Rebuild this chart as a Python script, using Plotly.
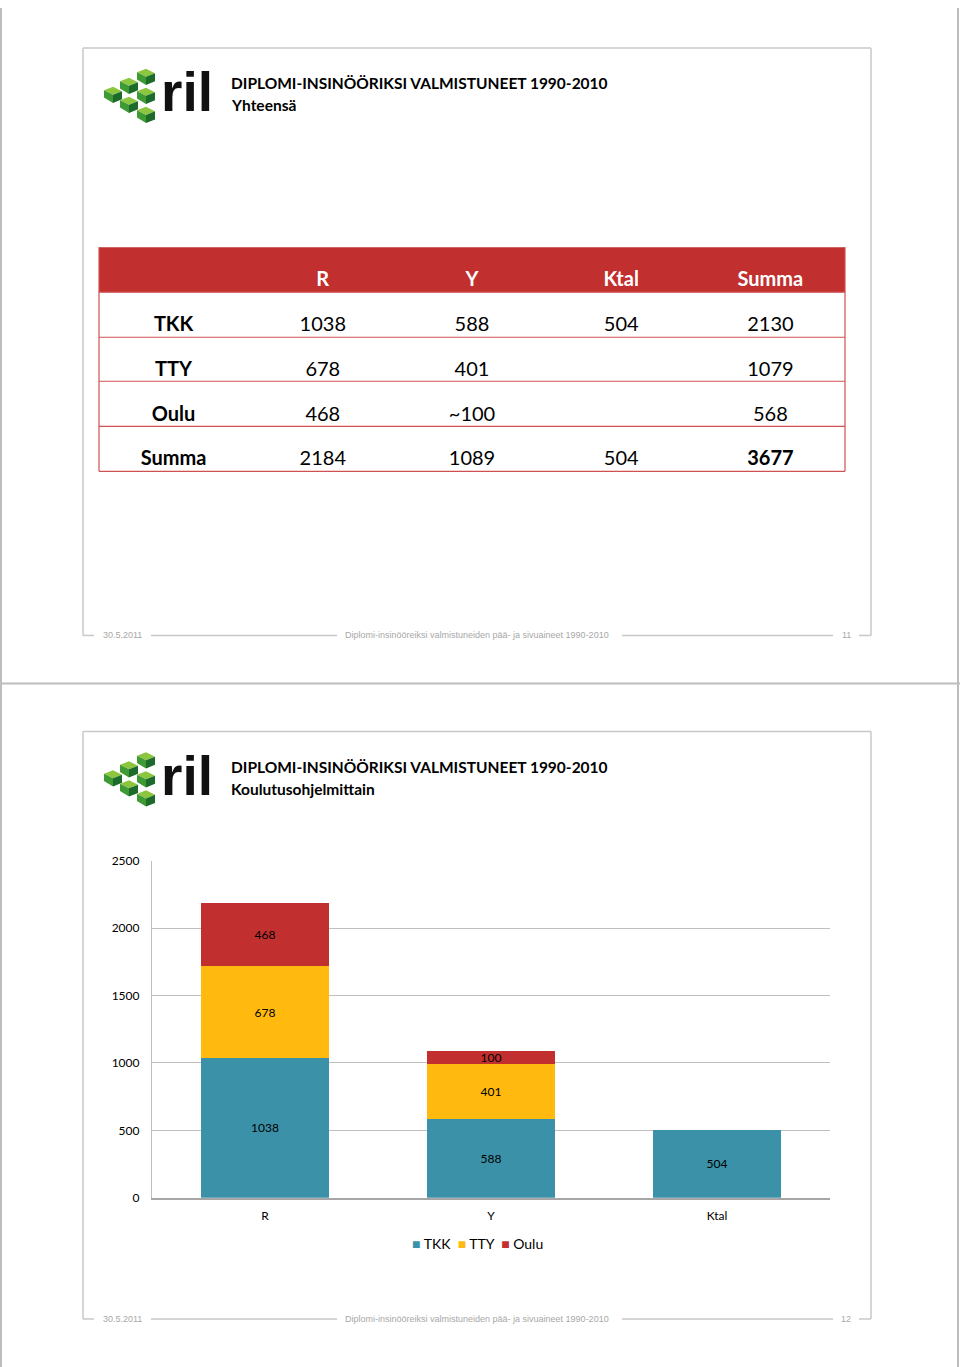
import plotly.graph_objects as go

W, H = 960, 1367
# vertical placement correction measured from the rendered page
OFF, SCL = 8.0, 0.9883


def px(x):
    return x / W


def py(y):
    return 1 - ((y - OFF) / SCL) / H


# ---------------- data ----------------
table_cols = ["", "R", "Y", "Ktal", "Summa"]
table_rows = ["TKK", "TTY", "Oulu", "Summa"]
col_R = ["1038", "678", "468", "2184"]
col_Y = ["588", "401", "~100", "1089"]
col_Ktal = ["504", "", "", "504"]
col_Summa = ["2130", "1079", "568", "3677"]

categories = ["R", "Y", "Ktal"]
tkk = [1038, 588, 504]
tty = [678, 401, None]
oulu = [468, 100, None]
series_names = ["TKK", "TTY", "Oulu"]
series_colors = ["#3A91A8", "#FFB90F", "#C12F2F"]
y_ticks = [0, 500, 1000, 1500, 2000, 2500]

title_main = "DIPLOMI-INSINÖÖRIKSI VALMISTUNEET 1990-2010"
subtitle_1 = "Yhteensä"
subtitle_2 = "Koulutusohjelmittain"
footer_date = "30.5.2011"
footer_text = "Diplomi-insinööreiksi valmistuneiden pää- ja sivuaineet 1990-2010"
page_numbers = ["11", "12"]

FONT = "Lato"
SANS = "Liberation Sans"
RED = "#C12F2F"
GRAY = "#C8C8C8"

fig = go.Figure()

# ---------------- stacked bar chart ----------------
for name, vals, col in zip(series_names, [tkk, tty, oulu], series_colors):
    fig.add_trace(go.Bar(
        x=categories, y=vals, name=name, marker=dict(color=col, line=dict(width=0)),
        texttemplate="%{y}", textposition="inside", insidetextanchor="middle",
        textfont=dict(family=FONT, size=12, color="black"), constraintext="none",
        showlegend=False, hoverinfo="skip", xaxis="x", yaxis="y",
    ))

# ---------------- table (text on hidden axes) ----------------
columns = [table_rows, col_R, col_Y, col_Ktal, col_Summa]
hx, hy, ht = [], [], []
for j, c in enumerate(table_cols):
    hx.append(j)
    hy.append(0)
    ht.append("<b>%s</b>" % c)
bx, by, bt = [], [], []
for j, col in enumerate(columns):
    for i, v in enumerate(col):
        bx.append(j)
        by.append(i + 1)
        bold = (j == 0) or (j == len(columns) - 1 and i == len(col) - 1)
        bt.append("<b>%s</b>" % v if bold else v)

fig.add_trace(go.Scatter(x=hx, y=hy, text=ht, mode="text", xaxis="x2", yaxis="y2",
                         textfont=dict(family=FONT, size=20, color="white"),
                         showlegend=False, hoverinfo="skip"))
fig.add_trace(go.Scatter(x=bx, y=by, text=bt, mode="text", xaxis="x2", yaxis="y2",
                         textfont=dict(family=FONT, size=20, color="black"),
                         showlegend=False, hoverinfo="skip"))

shapes = []
annotations = []


def line(x0, y0, x1, y1, color=GRAY, width=1.5):
    shapes.append(dict(type="line", xref="paper", yref="paper",
                       x0=px(x0), y0=py(y0), x1=px(x1), y1=py(y1),
                       line=dict(color=color, width=width), layer="below"))


# page borders
line(1, 8, 1, 1366, "#BDBDBD", 2)
line(958, 8, 958, 1366, "#BDBDBD", 2)
line(0, 683, 960, 683, "#BDBDBD", 2)

# slide frames and footers
for k, (top, foot) in enumerate([(48, 635), (731, 1318)]):
    line(83, top, 871, top)
    line(83, top, 83, foot)
    line(871, top, 871, foot)
    line(83, foot, 94, foot)
    line(151, foot, 337, foot)
    line(622, foot, 833, foot)
    line(859, foot, 871, foot)
    annotations.append(dict(x=px(122), y=py(foot), text=footer_date, showarrow=False,
                            xref="paper", yref="paper", xanchor="center", yanchor="middle",
                            font=dict(family=SANS, size=9, color="#A8A8A8")))
    annotations.append(dict(x=px(477), y=py(foot), text=footer_text, showarrow=False,
                            xref="paper", yref="paper", xanchor="center", yanchor="middle",
                            font=dict(family=SANS, size=9, color="#A8A8A8")))
    annotations.append(dict(x=px(846), y=py(foot), text=page_numbers[k], showarrow=False,
                            xref="paper", yref="paper", xanchor="center", yanchor="middle",
                            font=dict(family=SANS, size=9, color="#A8A8A8")))

    # logo
    dy = top - 48
    cubes = [(113, 93), (129, 84), (146, 75), (146, 94), (129, 103), (146, 113)]
    s = 9
    for cx, cy in cubes:
        cy = cy + dy
        faces = [
            ([(cx, cy - s * 0.7), (cx + s, cy - s * 0.2), (cx, cy + s * 0.2), (cx - s, cy - s * 0.3)], "#8CC63F"),
            ([(cx - s, cy - s * 0.3), (cx, cy + s * 0.2), (cx, cy + s * 1.1), (cx - s, cy + s * 0.5)], "#3E9A33"),
            ([(cx, cy + s * 0.2), (cx + s, cy - s * 0.2), (cx + s, cy + s * 0.7), (cx, cy + s * 1.1)], "#1D6B2A"),
        ]
        for pts, colr in faces:
            path = "M " + " L ".join("%f,%f" % (px(a), py(b)) for a, b in pts) + " Z"
            shapes.append(dict(type="path", xref="paper", yref="paper", path=path,
                               fillcolor=colr, line=dict(width=0)))
    annotations.append(dict(x=px(187), y=py(92 + dy), text="<b>ril</b>", showarrow=False,
                            xref="paper", yref="paper", xanchor="center", yanchor="middle",
                            font=dict(family=SANS, size=55, color="#111111")))

    annotations.append(dict(x=px(229), y=py(83 + dy), text="<b>%s</b>" % title_main, showarrow=False,
                            xref="paper", yref="paper", xanchor="left", yanchor="middle",
                            font=dict(family=FONT, size=15.5, color="black")))
    annotations.append(dict(x=px(229), y=py(105 + dy), text="<b>%s</b>" % (subtitle_1 if k == 0 else subtitle_2),
                            showarrow=False, xref="paper", yref="paper", xanchor="left", yanchor="middle",
                            font=dict(family=FONT, size=15.5, color="black")))

# table graphics
shapes.append(dict(type="rect", xref="paper", yref="paper", x0=px(99), x1=px(845),
                   y0=py(292), y1=py(247), fillcolor=RED, line=dict(width=0), layer="below"))
for yy in [292, 337, 381, 426, 471]:
    line(99, yy, 845, yy, "#D05050", 1.2)
line(99, 247, 99, 471, "#D05050", 1.2)
line(845, 247, 845, 471, "#D05050", 1.2)

# manual legend
legend_text = "  ".join('<span style="color:%s">■</span> %s' % (c, n) for n, c in zip(series_names, series_colors))
annotations.append(dict(x=px(477), y=py(1243), text=legend_text, showarrow=False,
                        xref="paper", yref="paper", xanchor="center", yanchor="middle",
                        font=dict(family=FONT, size=14, color="black")))

fig.update_layout(
    width=W, height=H, margin=dict(l=0, r=0, t=0, b=0),
    paper_bgcolor="white", plot_bgcolor="rgba(0,0,0,0)",
    barmode="stack", bargap=0.43,
    uniformtext=dict(minsize=12, mode="show"),
    shapes=shapes, annotations=annotations,
    xaxis=dict(domain=[px(152), px(830)], range=[-0.5, 2.5], showgrid=False,
               showline=True, linecolor="#A6A6A6", linewidth=1.5, ticks="",
               tickfont=dict(family=FONT, size=12, color="black"), ticklabelstandoff=6,
               fixedrange=True),
    yaxis=dict(domain=[py(1197), py(860)], range=[0, 2500], tickvals=y_ticks,
               showgrid=True, gridcolor="#BFBFBF", gridwidth=1.2, zeroline=False,
               showline=True, linecolor="#BFBFBF", linewidth=1.2, ticks="",
               tickfont=dict(family=FONT, size=12, color="black"), ticklabelstandoff=9,
               fixedrange=True),
    xaxis2=dict(domain=[px(99), px(845)], range=[-0.5, 4.5], visible=False, anchor="y2",
                fixedrange=True),
    yaxis2=dict(domain=[py(482.5), py(258.5)], range=[4.5, -0.5], visible=False, anchor="x2",
                fixedrange=True),
)

fig.write_html("out.html")
